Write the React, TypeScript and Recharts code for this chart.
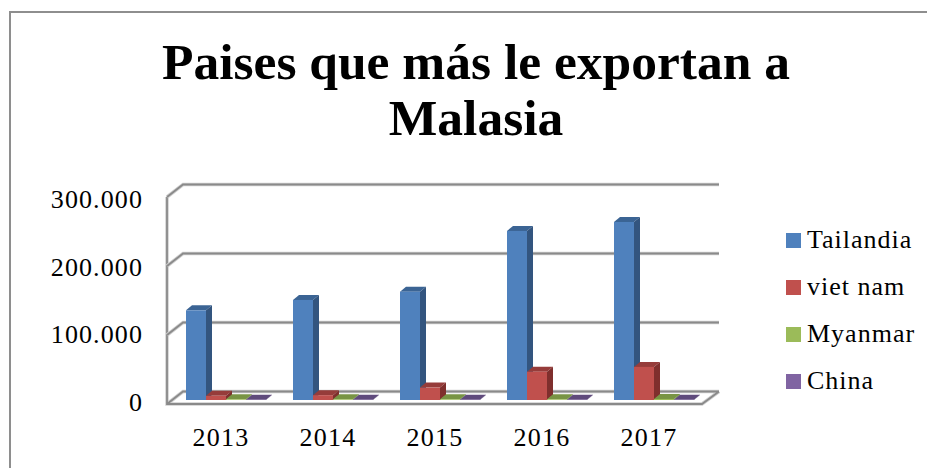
import { BarChart, Bar, XAxis, YAxis, CartesianGrid, Legend } from "recharts";

const YEARS = ["2013", "2014", "2015", "2016", "2017"];
const TAILANDIA = [130000, 145000, 157000, 245000, 258000];
const VIET_NAM = [6000, 7000, 18000, 41000, 48000];
const MYANMAR = [1000, 1000, 1000, 1000, 1500];
const CHINA = [300, 300, 300, 300, 300];
const Y_TICKS = [0, 100000, 200000, 300000];
const TITLE_LINES = ["Paises que más le exportan a", "Malasia"];

const SERIES = [
  { name: "Tailandia", values: TAILANDIA, front: "#4f81bd", side: "#33557f", top: "#3b6494" },
  { name: "viet nam", values: VIET_NAM, front: "#c0504d", side: "#7f2f2d", top: "#963c3a" },
  { name: "Myanmar", values: MYANMAR, front: "#9bbb59", side: "#66803a", top: "#789444" },
  { name: "China", values: CHINA, front: "#8064a2", side: "#53406d", top: "#5f4a7c" },
];

const data = YEARS.map((year, i) => {
  const row: Record<string, string | number> = { year };
  SERIES.forEach((s) => {
    row[s.name] = s.values[i];
  });
  return row;
});

const FONT = "'Liberation Serif', serif";
const BAR_DX = 6;
const BAR_DY = 5;

// the 3D look: each bar gets a top and a side face next to the front one
function Bar3D(props: any) {
  const { x, y, width, height, front, side, top } = props;
  const b = y + height;
  const r = x + width;
  return (
    <g>
      <polygon
        points={`${x},${y} ${x + BAR_DX},${y - BAR_DY} ${r + BAR_DX},${y - BAR_DY} ${r},${y}`}
        fill={top}
      />
      <polygon
        points={`${r},${y} ${r + BAR_DX},${y - BAR_DY} ${r + BAR_DX},${b - BAR_DY} ${r},${b}`}
        fill={side}
      />
      <rect x={x} y={y} width={width} height={height} fill={front} />
    </g>
  );
}

// back wall line + diagonal on the left wall, floor outline for the zero line
function WallLine(props: any) {
  const { x1, x2, y1 } = props;
  const frontX = x1 - 4.5;
  const backX = x1 + 11.5;
  const backRight = x2 + 12.5;
  const frontY = y1 + 4;
  const backY = y1 - 8.5;
  const isZero = y1 >= 399;
  let d = `M${frontX},${frontY} L${backX},${backY} L${backRight},${backY}`;
  if (isZero) {
    d += ` M${frontX},197 L${frontX},${frontY} L${backRight - 17},${frontY} L${backRight},${backY}`;
  }
  return (
    <g fill="none">
      <path d={d} stroke="#d0d0d0" strokeWidth={3.5} />
      <path d={d} stroke="#8a8a8a" strokeWidth={1.8} />
    </g>
  );
}

function YearTick(props: any) {
  const { x, payload } = props;
  return (
    <text x={x - 4} y={446} textAnchor="middle" fontFamily={FONT} fontSize={26} letterSpacing={1.2} fill="#000">
      {payload.value}
    </text>
  );
}

// labels sit a little further apart at the top than the gridlines do
function ValueTick(props: any) {
  const { y, payload } = props;
  const label = payload.value.toLocaleString("de-DE");
  return (
    <text
      x={143}
      y={y + 11 + (payload.value / 300000) * 4}
      textAnchor="end"
      fontFamily={FONT}
      fontSize={26}
      letterSpacing={1.1}
      fill="#000"
    >
      {label}
    </text>
  );
}

function LegendBox() {
  return (
    <div style={{ fontFamily: FONT, fontSize: 26, letterSpacing: 1, color: "#000" }}>
      {SERIES.map((s) => (
        <div key={s.name} style={{ height: 47, display: "flex", alignItems: "center" }}>
          <span style={{ width: 15, height: 15, background: s.front, marginRight: 6 }} />
          {s.name}
        </div>
      ))}
    </div>
  );
}

export default function App() {
  return (
    <div style={{ position: "absolute", left: 0, top: 0, width: 927, height: 468, overflow: "hidden", background: "#fff" }}>
      <BarChart
        width={927}
        height={468}
        data={data}
        margin={{ top: 193, right: 79.5, bottom: 38, left: 111.5 }}
        barCategoryGap={14.5}
        barGap={0}
      >
        <rect x={10} y={12} width={940} height={480} fill="none" stroke="#8e8e8e" strokeWidth={2} />
        {TITLE_LINES.map((line, i) => (
          <text
            key={line}
            x={476}
            y={79 + i * 56}
            textAnchor="middle"
            fontFamily={FONT}
            fontWeight="bold"
            fontSize={51.5}
            fill="#000"
          >
            {line}
          </text>
        ))}
        <CartesianGrid vertical={false} horizontal={(p: any) => <WallLine key={p.key} {...p} />} />
        <XAxis dataKey="year" axisLine={false} tickLine={false} tick={YearTick} />
        <YAxis width={60} domain={[0, 300000]} ticks={Y_TICKS} axisLine={false} tickLine={false} tick={ValueTick} />
        <Legend
          layout="vertical"
          align="right"
          verticalAlign="top"
          content={LegendBox}
          wrapperStyle={{ left: 786, top: 216.5, width: 141 }}
        />
        {SERIES.map((s) => (
          <Bar
            key={s.name}
            dataKey={s.name}
            isAnimationActive={false}
            fill={s.front}
            shape={(p: any) => <Bar3D {...p} front={s.front} side={s.side} top={s.top} />}
          />
        ))}
      </BarChart>
    </div>
  );
}
